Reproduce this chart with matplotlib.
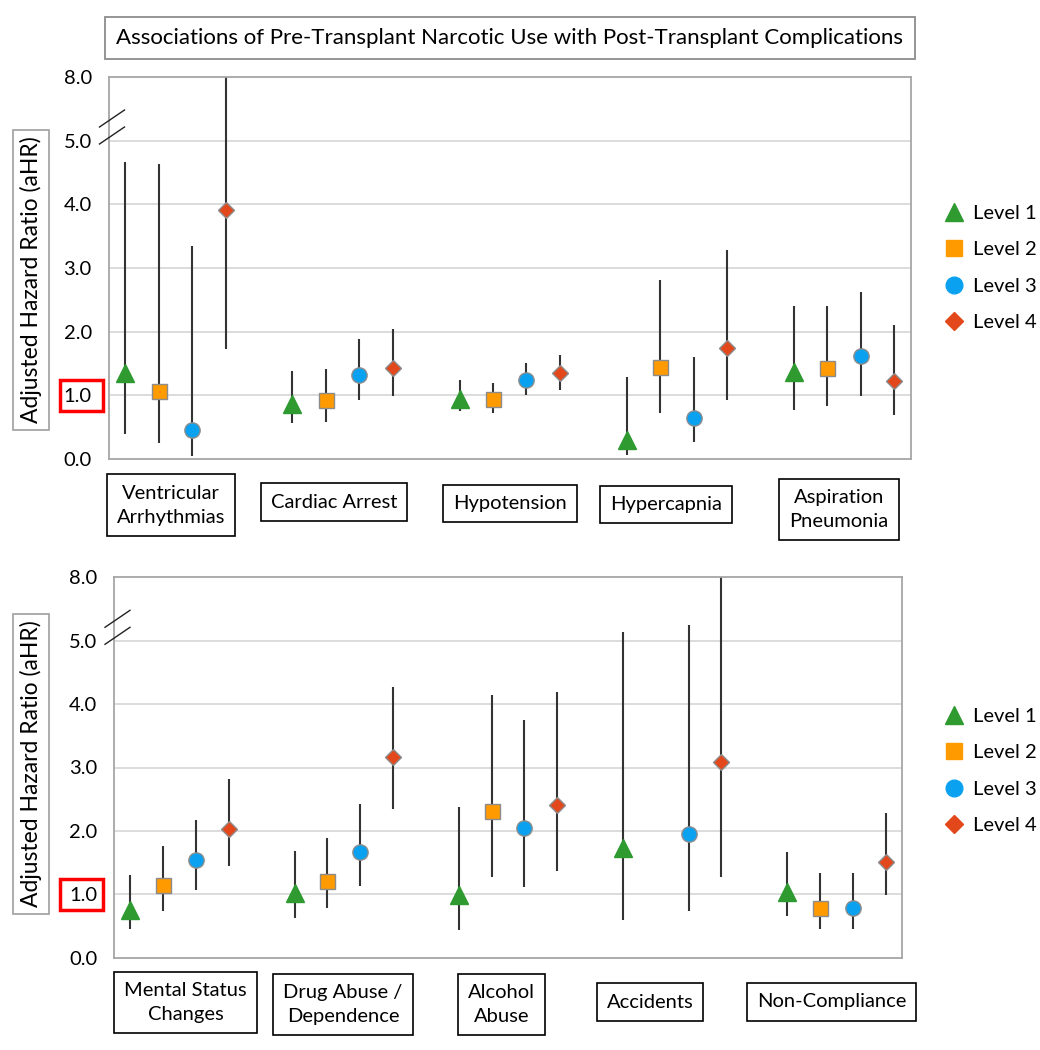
import numpy as np
import matplotlib
matplotlib.use("Agg")
import matplotlib.pyplot as plt
from matplotlib.lines import Line2D
from matplotlib.patches import Rectangle

plt.rcParams["font.family"] = ["Lato", "DejaVu Sans"]

W, H = 1040, 1050

# ---- data (aHR with 95% CI) ----
levels = ["Level 1", "Level 2", "Level 3", "Level 4"]

cats_top = ["Ventricular\nArrhythmias", "Cardiac Arrest", "Hypotension",
            "Hypercapnia", "Aspiration\nPneumonia"]
top_est = [[1.35, 0.87, 0.95, 0.30, 1.36],
           [1.07, 0.92, 0.94, 1.44, 1.43],
           [0.46, 1.32, 1.24, 0.64, 1.62],
           [3.91, 1.43, 1.35, 1.75, 1.22]]
top_lo = [[0.40, 0.56, 0.76, 0.07, 0.77],
          [0.25, 0.58, 0.73, 0.73, 0.83],
          [0.05, 0.93, 1.00, 0.26, 0.99],
          [1.73, 0.99, 1.09, 0.92, 0.69]]
top_hi = [[4.66, 1.38, 1.24, 1.29, 2.41],
          [4.64, 1.42, 1.19, 2.81, 2.41],
          [3.35, 1.89, 1.51, 1.60, 2.62],
          [9.00, 2.04, 1.64, 3.28, 2.11]]

cats_bot = ["Mental Status\nChanges", "Drug Abuse /\nDependence", "Alcohol\nAbuse",
            "Accidents", "Non-Compliance"]
bot_est = [[0.75, 1.02, 0.99, 1.73, 1.03],
           [1.15, 1.21, 2.31, np.nan, 0.78],
           [1.54, 1.66, 2.05, 1.95, 0.78],
           [2.03, 3.17, 2.41, 3.09, 1.51]]
bot_lo = [[0.45, 0.63, 0.43, 0.59, 0.66],
          [0.74, 0.78, 1.27, np.nan, 0.45],
          [1.07, 1.13, 1.11, 0.73, 0.45],
          [1.45, 2.34, 1.37, 1.27, 0.99]]
bot_hi = [[1.30, 1.69, 2.38, 5.42, 1.67],
          [1.76, 1.89, 4.15, np.nan, 1.33],
          [2.17, 2.43, 3.75, 5.75, 1.33],
          [2.82, 4.27, 4.19, 9.00, 2.28]]

tick_vals = [0, 1, 2, 3, 4, 5, 8]

markers = ["^", "s", "o", "D"]
sizes = [12.5, 10.8, 11, 8.6]
colors = ["#2e9a30", "#ff9a00", "#0aa2f0", "#e2481c"]


def brk(v):
    # broken axis: 5..8 squeezed into one unit
    v = np.asarray(v, dtype=float)
    return np.where(v > 5, 5 + (v - 5) / 3.0, v)


def fx(px):
    return px / W


def fy(py):
    return 1 - py / H


fig = plt.figure(figsize=(W / 100, H / 100), dpi=100)


def panel(box, cats, est, lo, hi, label_pos, ylab_y, leg_y):
    l, t, r, b = box
    ax = fig.add_axes([fx(l), fy(b), fx(r) - fx(l), fy(t) - fy(b)])
    for k in range(4):
        xs = np.arange(len(cats)) * 5 + k
        ax.vlines(xs, brk(lo[k]), brk(hi[k]), color="#333333", lw=1.5, zorder=2)
        ec = colors[k] if k == 0 else "#8c8c8c"
        ax.plot(xs, brk(est[k]), ls="none", marker=markers[k], ms=sizes[k],
                mfc=colors[k], mec=ec, mew=1, zorder=3)
    ax.set_xlim(-0.5, 23.5)
    ax.set_ylim(0, 6)
    ax.set_xticks([])
    ax.set_yticks(brk(tick_vals))
    ax.set_yticklabels([f"{v:.1f}" for v in tick_vals], fontsize=14.5)
    ax.tick_params(axis="y", length=0, pad=12)
    for yv in range(1, 6):
        ax.axhline(yv, color="#d9d9d9", lw=1.3, zorder=0)
    for s in ax.spines.values():
        s.set_color("#a6a6a6")
        s.set_linewidth(1.3)

    # break marks on the left spine
    for dy in (0, 17):
        fig.add_artist(Line2D([fx(l - 9), fx(l + 16)],
                              [fy(t + 50 + dy), fy(t + 33 + dy)],
                              color="#222222", lw=1))

    # category boxes
    for name, (cx, cy) in zip(cats, label_pos):
        fig.text(fx(cx), fy(cy), name, ha="center", va="center", fontsize=14.5,
                 linespacing=1.5,
                 bbox=dict(boxstyle="square,pad=0.5", fc="white", ec="black", lw=1.2))

    # y label box
    fig.text(fx(31), fy(ylab_y), "Adjusted Hazard Ratio (aHR)", rotation=90,
             ha="center", va="center", fontsize=16.5,
             bbox=dict(boxstyle="square,pad=0.3", fc="white", ec="#a6a6a6", lw=1.3))

    # red highlight around 1.0
    y1 = b - (b - t) / 6.0
    fig.add_artist(Rectangle((fx(60), fy(y1 + 15.5)), fx(43), 31 / H,
                             fill=False, ec="#ff0000", lw=2.5))

    handles = [Line2D([], [], ls="none", marker=markers[k], ms=sizes[k] + 1,
                      mfc=colors[k], mec=colors[k]) for k in range(4)]
    fig.legend(handles, levels, loc="upper left",
               bbox_to_anchor=(fx(924), fy(leg_y)), frameon=False,
               fontsize=14.5, labelspacing=0.95, handletextpad=0.35,
               handlelength=1.2)
    return ax


panel((108.5, 77, 911, 459), cats_top, top_est, top_lo, top_hi,
      [(171, 505), (334, 502), (510, 503.5), (666, 504.5), (839, 509.5)],
      280, 187)
panel((114, 577.3, 902, 957.7), cats_bot, bot_est, bot_lo, bot_hi,
      [(185.5, 1002.5), (343, 1004.5), (501.5, 1004.5), (650, 1002), (831.5, 1002)],
      764, 690)

fig.text(fx(510), fy(38),
         "Associations of Pre-Transplant Narcotic Use with Post-Transplant Complications",
         ha="center", va="center", fontsize=16,
         bbox=dict(boxstyle="square,pad=0.5", fc="white", ec="#8c8c8c", lw=1.3))

fig.savefig("out.png", dpi=100)
